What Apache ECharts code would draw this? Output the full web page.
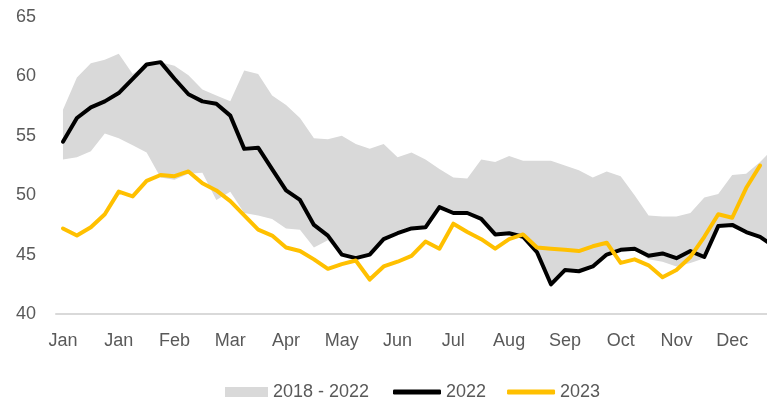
<!DOCTYPE html>
<html>
<head>
    <meta charset="UTF-8">
    <title>2018 - 2022 range vs 2022 and 2023</title>
    <script src="https://cdn.jsdelivr.net/npm/echarts@6/dist/echarts.min.js"></script>
    <style>
        html, body { margin: 0; padding: 0; background: #fff; overflow: hidden; }
        /* plot area runs a little past the right edge of the window, as in the original */
        #chart { width: 781px; height: 401px; }
    </style>
</head>
<body>
<div id="chart"></div>
<script>
// weekly categories, one month name per week start
const weeks = [
    'Jan', 'Jan', 'Jan', 'Jan', 'Jan', 'Feb', 'Feb', 'Feb', 'Feb',
    'Mar', 'Mar', 'Mar', 'Mar', 'Apr', 'Apr', 'Apr', 'Apr', 'Apr',
    'May', 'May', 'May', 'May', 'Jun', 'Jun', 'Jun', 'Jun',
    'Jul', 'Jul', 'Jul', 'Jul', 'Jul', 'Aug', 'Aug', 'Aug', 'Aug',
    'Sep', 'Sep', 'Sep', 'Sep', 'Oct', 'Oct', 'Oct', 'Oct', 'Oct',
    'Nov', 'Nov', 'Nov', 'Nov', 'Dec', 'Dec', 'Dec', 'Dec'
];

// 2018 - 2022 min / max range
const bandLow = [
    53.0, 53.2, 53.7, 55.2, 54.8, 54.2, 53.6, 51.5, 51.3, 51.8, 51.9, 49.6, 50.3,
    48.5, 48.3, 48.0, 47.2, 47.1, 45.6, 46.2, 44.9, 44.6, 44.9, 46.2, 46.7, 47.1,
    47.2, 48.9, 48.4, 48.4, 47.9, 46.6, 46.7, 46.4, 45.1, 42.4, 43.6, 43.5, 43.9,
    44.9, 45.3, 45.4, 44.6, 44.4, 44.0, 44.3, 44.7, 47.3, 47.4, 46.8, 46.4, 45.6
];
const bandHigh = [
    57.2, 59.9, 61.1, 61.4, 61.9, 60.2, 61.0, 61.2, 60.9, 60.1, 58.9, 58.4, 57.9,
    60.5, 60.2, 58.4, 57.6, 56.5, 54.8, 54.7, 55.0, 54.3, 53.9, 54.3, 53.2, 53.6,
    53.0, 52.2, 51.5, 51.4, 53.0, 52.8, 53.3, 52.9, 52.9, 52.9, 52.5, 52.1, 51.5,
    52.0, 51.6, 50.0, 48.3, 48.2, 48.2, 48.5, 49.8, 50.1, 51.7, 51.8, 52.8, 54.0
];

const values2022 = [
    54.5, 56.5, 57.4, 57.9, 58.6, 59.8, 61.0, 61.2, 59.8, 58.5, 57.9, 57.7, 56.7,
    53.9, 54.0, 52.2, 50.4, 49.6, 47.5, 46.6, 45.0, 44.7, 45.0, 46.3, 46.8, 47.2,
    47.3, 49.0, 48.5, 48.5, 48.0, 46.7, 46.8, 46.5, 45.2, 42.5, 43.7, 43.6, 44.0,
    45.0, 45.4, 45.5, 44.9, 45.1, 44.7, 45.3, 44.8, 47.4, 47.5, 46.9, 46.5, 45.7
];

const values2023 = [
    47.2, 46.6, 47.3, 48.4, 50.3, 49.9, 51.2, 51.7, 51.6, 52.0, 51.0, 50.4, 49.5,
    48.3, 47.1, 46.6, 45.6, 45.3, 44.6, 43.8, 44.2, 44.5, 42.9, 44.0, 44.4, 44.9,
    46.1, 45.5, 47.6, 46.9, 46.3, 45.5, 46.3, 46.7, 45.6, 45.5, 45.4, 45.3, 45.7,
    46.0, 44.3, 44.6, 44.1, 43.1, 43.7, 44.8, 46.5, 48.4, 48.1, 50.6, 52.5
];

const yTicks = [40, 45, 50, 55, 60, 65];

const textColor = '#595959';
const fontFamily = "'Liberation Sans', Arial, sans-serif";

const chart = echarts.init(document.getElementById('chart'));

const option = {
    animation: false,
    grid: { left: 56, right: 0, top: 17, bottom: 87 },
    legend: [
        {
            data: [{ name: '2018 - 2022', icon: 'rect' }],
            left: 220,
            top: 378,
            itemWidth: 43,
            itemHeight: 10,
            selectedMode: false,
            textStyle: { color: textColor, fontSize: 18, fontFamily: fontFamily }
        },
        {
            data: [
                { name: '2022', icon: 'roundRect' },
                { name: '2023', icon: 'roundRect' }
            ],
            left: 388,
            top: 378,
            itemWidth: 48,
            itemHeight: 5,
            itemGap: 21,
            selectedMode: false,
            textStyle: { color: textColor, fontSize: 18, fontFamily: fontFamily }
        }
    ],
    xAxis: {
        type: 'category',
        data: weeks,
        boundaryGap: true,
        axisLine: { lineStyle: { color: '#d9d9d9', width: 2 } },
        axisTick: { interval: 3, length: 8, lineStyle: { color: '#d9d9d9', width: 1.5 } },
        axisLabel: {
            interval: 3,
            margin: 18,
            color: textColor,
            fontSize: 18,
            fontFamily: fontFamily
        }
    },
    yAxis: {
        type: 'value',
        min: yTicks[0],
        max: yTicks[yTicks.length - 1],
        interval: 5,
        axisLine: { show: false },
        axisTick: { show: false },
        splitLine: { show: false },
        axisLabel: {
            margin: 20,
            color: textColor,
            fontSize: 18,
            fontFamily: fontFamily
        }
    },
    series: [
        {
            name: 'base',
            type: 'line',
            stack: 'band',
            data: bandLow,
            symbol: 'none',
            lineStyle: { opacity: 0 },
            silent: true
        },
        {
            name: '2018 - 2022',
            type: 'line',
            stack: 'band',
            data: bandHigh.map((v, i) => +(v - bandLow[i]).toFixed(2)),
            symbol: 'none',
            itemStyle: { color: '#d9d9d9' },
            lineStyle: { width: 0, opacity: 0 },
            areaStyle: { color: '#d9d9d9', opacity: 1 },
            silent: true
        },
        {
            name: '2022',
            type: 'line',
            data: values2022,
            symbol: 'none',
            itemStyle: { color: '#000000' },
            lineStyle: { color: '#000000', width: 4, join: 'round', cap: 'round' },
            z: 3
        },
        {
            name: '2023',
            type: 'line',
            data: values2023,
            symbol: 'none',
            itemStyle: { color: '#ffc000' },
            lineStyle: { color: '#ffc000', width: 4, join: 'round', cap: 'round' },
            z: 4
        }
    ]
};

chart.setOption(option);
</script>
</body>
</html>
